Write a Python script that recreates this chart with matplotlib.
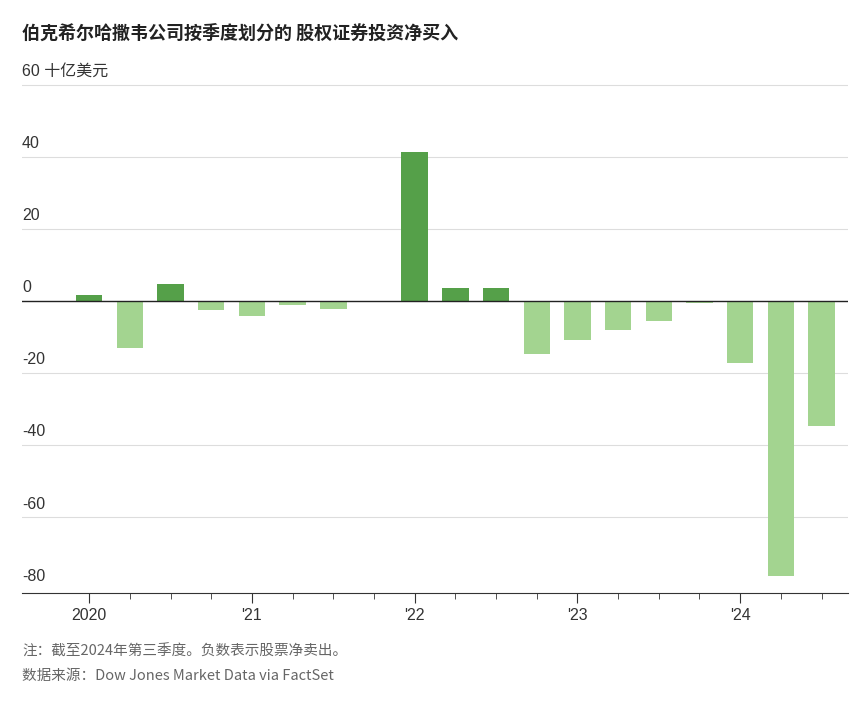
import matplotlib
matplotlib.use("Agg")
import matplotlib.pyplot as plt
from matplotlib.ticker import FixedLocator

plt.rcParams['font.family'] = ['Liberation Sans', 'Noto Sans CJK SC', 'DejaVu Sans']

quarters = ["2020Q1","2020Q2","2020Q3","2020Q4","2021Q1","2021Q2","2021Q3","2021Q4",
            "2022Q1","2022Q2","2022Q3","2022Q4","2023Q1","2023Q2","2023Q3","2023Q4",
            "2024Q1","2024Q2","2024Q3"]
values = [1.7, -13.0, 4.7, -2.5, -4.2, -1.1, -2.2, -0.3,
          41.4, 3.6, 3.6, -14.7, -10.8, -8.1, -5.6, -0.6,
          -17.2, -76.2, -34.6]
year_labels = ["2020", "'21", "'22", "'23", "'24"]
yticks = [-80, -60, -40, -20, 0, 20, 40, 60]
ytick_labels = ["-80", "-60", "-40", "-20", "0", "20", "40", "60 十亿美元"]

fig = plt.figure(figsize=(8.62, 7.04), dpi=100)
ax = fig.add_axes([22/862, 111/704, 826/862, 510/704])

pos_c, neg_c = "#55a049", "#a3d490"
x = list(range(len(values)))
ax.bar(x, values, width=0.65, color=[pos_c if v >= 0 else neg_c for v in values], zorder=3)

ax.set_ylim(-81, 60.5)
ax.set_xlim(-1.65, len(values) - 0.35)
for t in yticks:
    if t == -80:
        continue
    ax.axhline(t, color="#dddddd", lw=0.8, zorder=1)
ax.axhline(0, color="#222222", lw=1.0, zorder=4)
for t, l in zip(yticks, ytick_labels):
    ax.text(-1.65, t + 1.6, l, fontsize=11.5, color="#333333", va="bottom", ha="left")

for s in ["top", "right", "left"]:
    ax.spines[s].set_visible(False)
ax.spines["bottom"].set_color("#333333")
ax.set_yticks([])
ax.xaxis.set_major_locator(FixedLocator([0, 4, 8, 12, 16]))
ax.set_xticklabels(year_labels, fontsize=11.5, color="#333333")
ax.xaxis.set_minor_locator(FixedLocator([i for i in x if i % 4]))
ax.tick_params(axis="x", which="major", length=7, color="#333333", pad=4)
ax.tick_params(axis="x", which="minor", length=4, color="#333333")

fig.text(22/862, 1 - 33/704, "伯克希尔哈撒韦公司按季度划分的 股权证券投资净买入", fontsize=13,
         fontweight="bold", color="#222222", va="center", family=['Noto Sans CJK SC'])
fig.text(22/862, 1 - 652/704, "注：截至2024年第三季度。负数表示股票净卖出。", fontsize=10.5,
         color="#666666", va="center", family=['Noto Sans CJK SC'])
fig.text(22/862, 1 - 676/704, "数据来源：Dow Jones Market Data via FactSet", fontsize=10.5,
         color="#666666", va="center", family=['Noto Sans CJK SC'])

fig.savefig("out.png", dpi=100)
